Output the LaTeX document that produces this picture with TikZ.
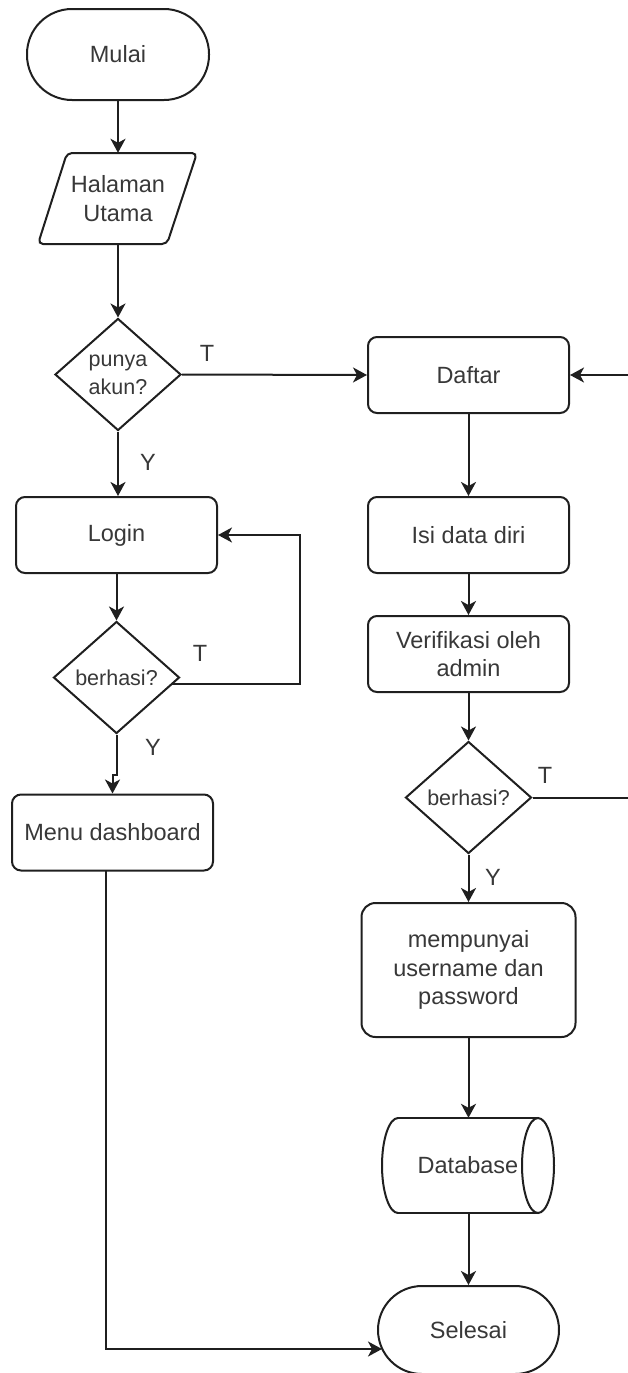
\documentclass[tikz,border=0pt]{standalone}
\usepackage{fontspec}
\setmainfont{Liberation Sans}
\usetikzlibrary{shapes.geometric,arrows.meta}
\begin{document}
\begin{tikzpicture}[x=1pt,y=-1pt,
  lbl/.style={font=\fontsize{23.5}{28.5}\selectfont, text=black!78, inner sep=1pt},
  shp/.style={draw=black!88, line width=2pt},
  box/.style={shp, lbl, rounded corners=9pt, minimum width=201pt, minimum height=76pt, align=center},
  term/.style={shp, lbl, rounded corners=45pt, minimum width=182pt, minimum height=91pt},
  dec/.style={shp, diamond, inner sep=0pt, minimum width=126pt, minimum height=112pt, align=center,
    font=\fontsize{21.5}{28}\selectfont, text=black!78},
  arr/.style={draw=black!88, line width=2pt, -{Stealth[length=14pt,width=15pt,inset=4pt]}}]
\useasboundingbox (0,0) rectangle (628,1373);
\clip (0,0) rectangle (628,1373);

% left column
\node[term] (mulai) at (118,54.5) {Mulai};
\node[lbl, minimum width=130pt, minimum height=91pt, align=center] (hal) at (118,198.5) {Halaman\\Utama};
\draw[shp, rounded corners=5pt] (67,153) -- (197,153) -- (167,244) -- (38,244) -- cycle;
\node[dec] (pa) at (118,374.5) {punya\\akun?};
\node[box] (login) at (116.5,535) {Login};
\node[dec] (b1) at (116.5,677.5) {berhasi?};
\node[box] (menu) at (112.5,832.5) {Menu dashboard};

% right column
\node[box] (daftar) at (468.5,375) {Daftar};
\node[box] (isi) at (468.5,535) {Isi data diri};
\node[box] (veri) at (468.5,654) {Verifikasi oleh\\admin};
\node[dec] (b2) at (468.5,797.5) {berhasi?};
\node[box, minimum width=214pt, minimum height=134pt, rounded corners=14pt] (punya) at (468.5,970) {mempunyai\\username dan\\password};
\node[lbl, minimum width=172pt, minimum height=95pt] (db) at (468,1165.5) {Database};
% horizontal cylinder around the database node
\draw[shp] (398,1118) -- (538,1118) (398,1213) -- (538,1213);
\draw[shp] (398,1213) .. controls (389.2,1213) and (382,1191.7) .. (382,1165.5)
  .. controls (382,1139.3) and (389.2,1118) .. (398,1118);
\draw[shp] (538,1165.5) ellipse [x radius=16, y radius=47.5];
\node[term, minimum width=181pt, minimum height=88pt, rounded corners=44pt] (sel) at (468.5,1330) {Selesai};

% branch labels
\node[lbl] (t1) at (207,353) {T};
\node[lbl] (y1) at (148,462) {Y};
\node[lbl] (t2) at (200,653) {T};
\node[lbl] (y2) at (153,747) {Y};
\node[lbl] (t3) at (545,775) {T};
\node[lbl] (y3) at (493,877) {Y};

% connectors
\draw[arr] (mulai) -- (hal);
\draw[arr] (hal) -- (pa);
\draw[arr] (pa.east) -- (daftar.west);
\draw[arr] (pa.south) -- (pa.south |- login.north);
\draw[arr] (login) -- (b1);
\coordinate (b1r) at (171,684);
\draw[arr] (b1r) -- ++(129,0) |- (login.east);
\draw[arr] (b1.south) -- ++(0,40) -| (menu.north);
\coordinate (m1) at (106,870.5);
\coordinate (s1) at (382,1349);
\draw[arr] (m1) |- (s1);

\draw[arr] (daftar) -- (isi);
\draw[arr] (isi) -- (veri);
\draw[arr] (veri) -- (b2);
\draw[arr] (b2) -- (punya);
\draw[arr] (punya.south) -- (punya.south |- db.north);
\draw[arr] (db.south -| sel.north) -- (sel.north);
\draw[arr] (b2.east) -- ++(112,0) |- (daftar.east);
\end{tikzpicture}
\end{document}
